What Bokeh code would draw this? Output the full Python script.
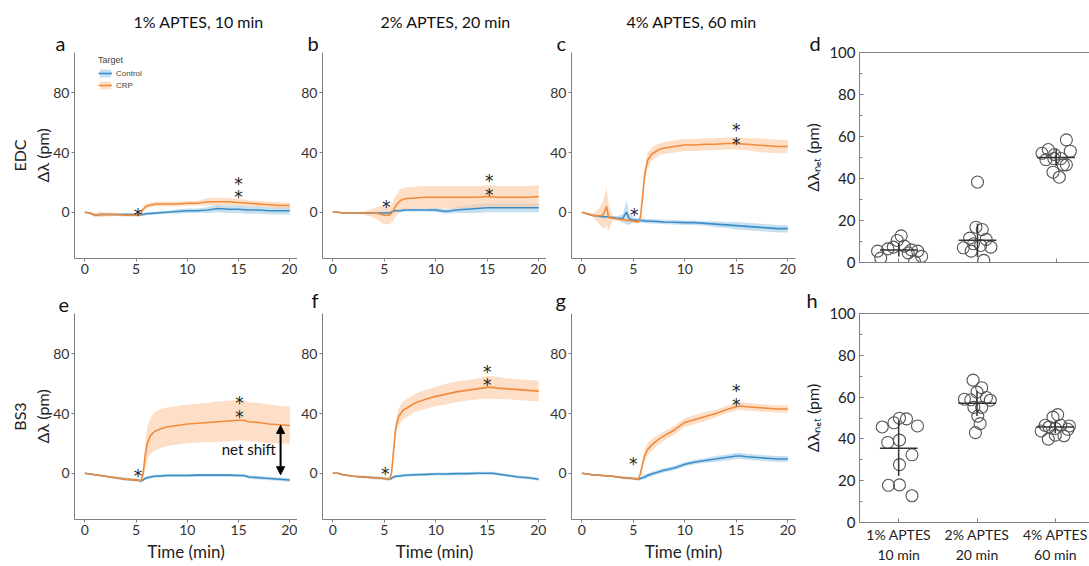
import numpy as np
from bokeh.plotting import figure
from bokeh.layouts import row, column
from bokeh.models import (Range1d, FixedTicker, Label, Legend, LegendItem, Arrow,
                          NormalHead, LinearAxis, Title)
from bokeh.core.properties import value
from bokeh.embed import file_html
from bokeh.resources import INLINE

FONT = "Lato"

# ---------------- data ----------------
col_titles = ["1% APTES, 10 min", "2% APTES, 20 min", "4% APTES, 60 min"]
row_names = ["EDC", "BS3"]
letters = ["a", "b", "c", "d", "e", "f", "g", "h"]
cat_labels = ["1% APTES\n10 min", "2% APTES\n20 min", "4% APTES\n60 min"]

# panel a (EDC, 1% APTES)
t_a = [0, 0.5, 1, 1.5, 2, 3, 4, 5, 5.4, 5.7, 6, 6.5, 7, 8, 9, 10, 11, 12, 13, 14, 15, 16, 17, 18, 19, 20]
crp_a = [0, -0.5, -2, -1.5, -1.5, -1.5, -2, -2, -2, 2, 4, 5, 5.5, 5.5, 5.5, 6, 6, 7, 7, 7, 6.5, 6, 5.5, 5, 4.5, 4.5]
crp_a_sd = [0, 0.5, 1, 2, 1.5, 1, 1, 1, 1, 1.5, 1.5, 1.5, 1.5, 1.5, 1.5, 1.5, 1.5, 2.5, 2.5, 2.5, 2.5, 2, 2, 2, 2, 2]
ctl_a = [0, -0.5, -2, -1.5, -1.5, -1.5, -1.5, -1.5, -1.5, -1.5, -1, -0.8, -0.5, 0, 0.5, 1, 1, 1.5, 2.5, 2, 2, 1.5, 1.5, 1, 1, 1]
ctl_a_sd = [0, 0.5, 1, 1, 1, 1, 1, 1, 1, 1, 1, 1, 1, 1, 1.5, 1.5, 1.5, 2, 2.5, 2.5, 2.5, 2.5, 2.5, 2.5, 2.5, 2.5]

# panel b (EDC, 2% APTES)
t_b = [0, 0.5, 1, 2, 3, 3.5, 4, 4.5, 5, 5.5, 5.8, 6, 6.3, 6.6, 7, 8, 9, 10, 11, 12, 13, 14, 15, 16, 17, 18, 19, 20]
crp_b = [0, 0, -0.5, -0.5, -0.5, -0.5, -0.5, -1, -2, -2, 0, 3, 6, 8, 9, 9.5, 10, 10, 10, 10, 10, 10, 10.5, 10, 10, 10, 10, 10.5]
crp_b_sd = [0, 0.3, 0.5, 0.5, 1, 2, 3, 5, 6, 6, 6.5, 7, 7, 7.5, 7.5, 7.5, 7.5, 7.5, 7.5, 7.5, 7.5, 7.5, 7.5, 7.5, 7.5, 7.5, 7.5, 7.5]
ctl_b = [0, 0, -0.5, -0.5, -0.5, -0.5, -0.5, -0.5, -0.5, -0.5, 0.5, 1, 1, 1, 1.5, 1.5, 1.5, 1.5, 0.5, 1.5, 2, 2.5, 3, 3, 3, 3, 3, 3]
ctl_b_sd = [0, 0.3, 0.5, 0.5, 0.5, 0.5, 0.5, 0.8, 1, 1, 1, 1, 1, 1, 1, 1, 1, 1.5, 1.5, 2, 2.5, 3, 3, 3, 3, 3, 3, 3]

# panel c (EDC, 4% APTES)
t_c = [0, 0.5, 1, 1.5, 2, 2.2, 2.4, 2.6, 3, 3.5, 4, 4.2, 4.35, 4.6, 5, 5.5, 5.7, 5.9, 6.1, 6.4, 6.8, 7.5, 8, 9, 10, 11, 12, 13, 14, 15, 16, 17, 18, 19, 20]
crp_c = [0, -1, -2, -2.5, -2, 0, 4, -3.5, -4, -4.5, -5, -5, -5.5, -5.5, -6, -6.5, -3, 10, 25, 35, 39, 42, 43, 44, 45, 45, 45.5, 45.5, 46, 46, 45.5, 45, 44.5, 44, 44]
crp_c_sd = [0, 0.5, 1, 4, 8, 11, 13, 9, 1.5, 1, 1, 1, 1, 1, 1, 1, 2, 4, 5, 5, 4.5, 4, 4, 4, 4, 4, 4, 4, 4, 4, 4, 4.5, 4.5, 4.5, 4.5]
ctl_c = [0, -1, -2, -2.5, -3, -3, -3, -3.2, -3.5, -4, -4, -1.5, 0, -4.5, -5, -5.5, -5.5, -5.5, -5.8, -6, -6, -6.3, -6.5, -6.7, -7, -7, -7.5, -8, -8.5, -9, -9.5, -10, -10.5, -11, -11]
ctl_c_sd = [0, 0.5, 0.8, 1, 1, 1, 1, 1, 1, 1.5, 3, 6, 8, 4, 1.5, 1.5, 1.5, 1.5, 1.5, 1.5, 1.5, 1.5, 1.5, 1.5, 1.5, 1.5, 1.5, 2, 2, 2.5, 2.5, 2.5, 2.5, 2.5, 2.5]

# bottom row time grid
t_e = [0, 0.5, 1, 2, 3, 4, 5, 5.5, 5.7, 5.9, 6.1, 6.4, 6.8, 7.5, 8, 9, 10, 11, 12, 13, 14, 15, 15.5, 16, 17, 18, 19, 20]
# panel e (BS3, 1% APTES)
crp_e = [0, -0.5, -1, -2, -3, -4, -4.5, -5, 0, 12, 20, 25, 28, 30, 31, 32, 33, 33.5, 34, 34.5, 35, 35.5, 35.5, 34.5, 34, 33, 32.5, 32]
crp_e_sd = [0, 0.3, 0.5, 0.5, 0.8, 1, 1, 1, 4, 8, 11, 12, 13, 13, 13, 13, 13, 13, 13, 13.5, 13.5, 13.5, 13.5, 13, 13, 13, 12.5, 12.5]
ctl_e = [0, -0.5, -1, -2, -3, -4, -4.5, -5, -4.5, -3.5, -3, -2.5, -2, -1.8, -1.5, -1.5, -1.5, -1.3, -1.3, -1.3, -1.3, -1.5, -1.5, -2.5, -3, -3.5, -4, -4.5]
ctl_e_sd = [0, 0.3, 0.5, 0.5, 0.8, 1, 1, 1, 1, 1, 1, 1, 1, 1, 1, 1, 1, 1, 1, 1, 1, 1, 1, 1.2, 1.2, 1.2, 1.2, 1.2]

# panel f (BS3, 2% APTES)
crp_f = [0, 0, -1, -2, -2.5, -3, -3.5, -4, 0, 15, 30, 38, 42, 45, 47, 49.5, 51.5, 53, 54.5, 55.5, 56.5, 57.5, 57.5, 57, 56.5, 56, 55.5, 55]
crp_f_sd = [0, 0.3, 0.5, 0.5, 0.8, 0.8, 1, 1, 2, 4, 5, 5.5, 6, 6, 6, 6.5, 6.5, 7, 7, 7, 7, 7.5, 7.5, 7.5, 7, 7, 7, 7]
ctl_f = [0, 0, -1, -2, -2.5, -3, -3.5, -4, -3.5, -2.5, -2, -2, -1.5, -1.2, -1, -0.8, -0.5, -0.5, -0.3, -0.3, 0, 0, 0, -0.5, -1.5, -2.5, -3, -4]
ctl_f_sd = [0, 0.3, 0.5, 0.5, 0.8, 1, 1, 1, 1, 1, 1, 1, 1, 1, 1, 1, 1, 1, 1, 1, 1, 1, 1, 1, 1, 1, 1, 1]

# panel g (BS3, 4% APTES)
crp_g = [0, -0.5, -1, -1.5, -2, -3, -3.5, -4, 0, 6, 12, 16, 19, 23, 25, 29, 34, 36, 38, 40, 42.5, 44.5, 45, 44.5, 44, 43.5, 43, 43]
crp_g_sd = [0, 0.3, 0.5, 0.5, 0.5, 0.8, 0.8, 1, 2, 3, 4, 4, 4, 3.5, 3, 3, 3, 3, 3, 2.5, 2.5, 2.5, 2.5, 2.5, 2.5, 2.5, 2.5, 2.5]
ctl_g = [0, -0.5, -1, -1.5, -2, -3, -3.5, -4, -3.5, -3, -2.5, -1.5, -0.5, 1, 2, 3.5, 6, 7.5, 8.5, 9.5, 10.5, 11.5, 11.5, 11, 10.5, 10, 9.5, 9.5]
ctl_g_sd = [0, 0.3, 0.5, 0.5, 0.5, 0.8, 1, 1, 1, 1, 1.5, 1.5, 1.5, 1.5, 1.5, 1.5, 1.5, 1.5, 1.5, 2, 2, 2, 2, 2, 2, 2, 2, 2]

# significance stars (time, value)
star_t = {"a": [5.2, 15, 15], "b": [5.2, 15.2, 15.2], "c": [5.1, 15, 15],
          "e": [5.2, 15.1, 15.1], "f": [5.1, 15, 15], "g": [5.0, 15, 15]}
star_v = {"a": [1, 21.5, 13], "b": [6.4, 23.8, 14.4], "c": [1.1, 57.5, 48.7],
          "e": [1.1, 49.8, 40.4], "f": [2, 70.4, 61.5], "g": [8.9, 57.6, 48.2]}

# net shift arrow (panel e)
net_t = 19.1
net_top = 32
net_bottom = -1

# scatter panels: net shift per replicate
d_grp = [1] * 12 + [2] * 11 + [3] * 12
d_jit = [-0.27, -0.23, -0.14, -0.07, -0.02, 0.03, 0.07, 0.12, 0.16, 0.2, 0.29, 0.24,
         0.0, -0.02, 0.06, -0.1, -0.18, -0.08, -0.05, 0.04, 0.11, 0.17, 0.08,
         -0.18, -0.1, -0.02, -0.13, -0.03, 0.13, 0.18, 0.09, 0.13, -0.04, 0.04, 0.06]
d_val = [5.4, 2.1, 6.5, 7.3, 10.5, 12.7, 7.8, 4.6, 6.0, 0.4, 2.9, 5.4,
         38.3, 16.8, 15.7, 11.6, 7.0, 5.4, 8.9, 8.1, 11.0, 7.3, 1.0,
         52.0, 53.8, 51.4, 49.0, 49.5, 58.4, 53.0, 46.5, 46.5, 43.0, 40.6, 49.5]
d_mean = [6.0, 10.6, 50.0]
d_sd = [3.2, 8.0, 4.0]

h_grp = [1] * 12 + [2] * 12 + [3] * 12
h_jit = [-0.21, -0.14, -0.06, 0.01, 0.1, 0.24, 0.01, 0.17, 0.01, -0.13, 0.01, 0.17,
         -0.05, 0.06, 0.0, -0.16, -0.08, 0.12, 0.17, -0.04, 0.06, 0.01, 0.04, -0.02,
         0.03, -0.03, -0.13, -0.18, -0.08, 0.07, 0.18, 0.0, -0.09, 0.0, 0.11, 0.16]
h_val = [45.7, 38.3, 47.7, 49.9, 49.6, 46.2, 39.4, 32.4, 27.7, 17.8, 18.0, 12.8,
         68.1, 64.5, 62.4, 59.0, 58.7, 59.8, 58.5, 55.1, 55.1, 50.9, 47.3, 43.0,
         51.6, 50.4, 46.5, 43.8, 45.7, 46.5, 46.2, 45.0, 39.9, 41.8, 41.5, 44.6]
h_mean = [35.5, 57.0, 45.7]
h_sd = [13.3, 6.0, 3.0]

# ---------------- styling ----------------
ORANGE = "#F28A3A"
BLUE = "#3B8DC8"
ORANGE_FILL = "#FBC9A2"
BLUE_FILL = "#A9CFEA"
AXIS_GREY = "#808080"
TEXT = "#333333"


def style_title(t, size):
    t.text_font = FONT
    t.text_font_size = size
    t.text_font_style = "normal"
    t.text_color = "#111111"
    t.align = "left"


def add_titles(p, letter, letter_offset, title=None, title_offset=0, letter_standoff=-4):
    if title:
        p.title.text = title
        p.title.offset = title_offset
        p.title.standoff = 0
        style_title(p.title, "16px")
        lt = Title(text=letter, offset=letter_offset, standoff=letter_standoff)
        style_title(lt, "20px")
        p.add_layout(lt, "above")
    else:
        p.title.text = letter
        p.title.offset = letter_offset
        p.title.standoff = letter_standoff
        style_title(p.title, "20px")


def ts_panel(t, crp, crp_sd, ctl, ctl_sd, stars_t, stars_v, fw, left, right, top, bottom,
             ylabel=None, xlabel=None):
    p = figure(frame_width=fw, frame_height=206, x_range=Range1d(-1, 20.75),
               y_range=Range1d(-31, 107), output_backend="svg", toolbar_location=None,
               min_border_left=left, min_border_right=right, min_border_top=top,
               min_border_bottom=bottom)
    p.xgrid.visible = False
    p.ygrid.visible = False
    p.outline_line_color = None
    t = np.array(t, dtype=float)
    crp = np.array(crp, dtype=float)
    ctl = np.array(ctl, dtype=float)
    crp_sd = np.array(crp_sd, dtype=float)
    ctl_sd = np.array(ctl_sd, dtype=float)
    bb = p.varea(x=t, y1=ctl - ctl_sd, y2=ctl + ctl_sd, fill_color=BLUE_FILL, fill_alpha=0.65)
    ob = p.varea(x=t, y1=crp - crp_sd, y2=crp + crp_sd, fill_color=ORANGE_FILL, fill_alpha=0.6)
    bl = p.line(t, ctl, line_color=BLUE, line_width=1.6)
    ol = p.line(t, crp, line_color=ORANGE, line_width=1.6)
    p.text(x=stars_t, y=stars_v, text=["*"] * len(stars_t), text_font=value("DejaVu Sans"),
           text_font_size="17px", text_align="center", text_baseline="middle",
           text_color="#222222", y_offset=4)
    for ax in (p.xaxis[0], p.yaxis[0]):
        ax.axis_line_color = AXIS_GREY
        ax.major_tick_line_color = AXIS_GREY
        ax.minor_tick_line_color = None
        ax.major_tick_out = 3
        ax.major_tick_in = 0
        ax.major_label_text_font = FONT
        ax.major_label_text_font_size = "14px"
        ax.major_label_text_color = TEXT
        ax.major_label_standoff = 2
    p.xaxis.ticker = FixedTicker(ticks=[0, 5, 10, 15, 20])
    p.yaxis.ticker = FixedTicker(ticks=[0, 40, 80])
    if ylabel:
        p.yaxis.axis_label = ylabel
        p.yaxis.axis_label_text_font = FONT
        p.yaxis.axis_label_text_font_size = "16px"
        p.yaxis.axis_label_text_font_style = "normal"
        p.yaxis.axis_label_text_color = "#222222"
        p.yaxis.axis_label_standoff = -2
    if xlabel:
        p.xaxis.axis_label = xlabel
        p.xaxis.axis_label_text_font = FONT
        p.xaxis.axis_label_text_font_size = "17px"
        p.xaxis.axis_label_text_font_style = "normal"
        p.xaxis.axis_label_text_color = "#222222"
        p.xaxis.axis_label_standoff = 3
    return p, (bb, bl, ob, ol)


def dot_panel(grp, jit, val, mean, sd, fw, fh, left, right, top, bottom, show_labels):
    p = figure(frame_width=fw, frame_height=fh, x_range=Range1d(0.5, 3.5),
               y_range=Range1d(0, 100), output_backend="svg", toolbar_location=None,
               min_border_left=left, min_border_right=right, min_border_top=top,
               min_border_bottom=bottom)
    p.xgrid.visible = False
    p.ygrid.visible = False
    p.outline_line_color = AXIS_GREY
    xs = [g + j for g, j in zip(grp, jit)]
    p.scatter(xs, val, marker="circle", size=12, fill_alpha=0, line_color="#555555",
              line_width=1.1)
    cats = [1, 2, 3]
    m = np.array(mean)
    s = np.array(sd)
    p.segment(x0=[c - 0.24 for c in cats], x1=[c + 0.24 for c in cats], y0=m, y1=m,
              line_color="#333333", line_width=1.5)
    p.segment(x0=cats, x1=cats, y0=m - s, y1=m + s, line_color="#333333", line_width=1.5)
    yt = FixedTicker(ticks=[0, 20, 40, 60, 80, 100], minor_ticks=[10, 30, 50, 70, 90])
    p.yaxis.ticker = yt
    ya = p.yaxis[0]
    ya.axis_line_color = AXIS_GREY
    ya.major_tick_line_color = AXIS_GREY
    ya.minor_tick_line_color = AXIS_GREY
    ya.major_tick_in = 4
    ya.major_tick_out = 0
    ya.minor_tick_in = 3
    ya.minor_tick_out = 0
    ya.major_label_text_font = FONT
    ya.major_label_text_font_size = "15px"
    ya.major_label_text_color = "#222222"
    ya.major_label_standoff = 4
    ya.axis_label = "Δλₙₑₜ (pm)"
    ya.axis_label_text_font = FONT
    ya.axis_label_text_font_size = "16px"
    ya.axis_label_text_font_style = "normal"
    ya.axis_label_text_color = "#222222"
    ya.axis_label_standoff = 4
    ra = LinearAxis(ticker=yt, axis_line_color=AXIS_GREY, major_tick_line_color=AXIS_GREY,
                    minor_tick_line_color=AXIS_GREY, major_tick_in=4, major_tick_out=0,
                    minor_tick_in=3, minor_tick_out=0, major_label_text_font_size="0px",
                    major_label_text_color=None, major_label_standoff=0)
    p.add_layout(ra, "right")
    xa = p.xaxis[0]
    xa.ticker = FixedTicker(ticks=cats, minor_ticks=[])
    xa.axis_line_color = AXIS_GREY
    xa.major_tick_line_color = AXIS_GREY
    xa.major_tick_in = 4
    xa.major_tick_out = 0
    if show_labels:
        xa.major_label_overrides = {c: l for c, l in zip(cats, cat_labels)}
        xa.major_label_text_font = FONT
        xa.major_label_text_font_size = "14px"
        xa.major_label_text_color = "#222222"
        xa.major_label_standoff = 3
    else:
        xa.major_label_text_font_size = "0px"
        xa.major_label_text_color = None
    return p


pa, ra_ = ts_panel(t_a, crp_a, crp_a_sd, ctl_a, ctl_a_sd, star_t["a"], star_v["a"],
                   223, 74, 0, 52, 24, ylabel=row_names[0] + "\nΔλ (pm)")
add_titles(pa, letters[0], -19, col_titles[0], 59)
pb, _ = ts_panel(t_b, crp_b, crp_b_sd, ctl_b, ctl_b_sd, star_t["b"], star_v["b"],
                 224, 25, 0, 52, 24)
add_titles(pb, letters[1], -15, col_titles[1], 58)
pc, _ = ts_panel(t_c, crp_c, crp_c_sd, ctl_c, ctl_c_sd, star_t["c"], star_v["c"],
                 224, 25, 5, 52, 24)
add_titles(pc, letters[2], -15, col_titles[2], 55)
pd = dot_panel(d_grp, d_jit, d_val, d_mean, d_sd, 236, 210, 52, 1, 52, 20, False)
add_titles(pd, letters[3], -50)

pe, _ = ts_panel(t_e, crp_e, crp_e_sd, ctl_e, ctl_e_sd, star_t["e"], star_v["e"],
                 223, 74, 0, 31, 47, ylabel=row_names[1] + "\nΔλ (pm)", xlabel="Time (min)")
add_titles(pe, letters[4], -16, letter_standoff=4)
pf, _ = ts_panel(t_e, crp_f, crp_f_sd, ctl_f, ctl_f_sd, star_t["f"], star_v["f"],
                 224, 25, 0, 31, 47, xlabel="Time (min)")
add_titles(pf, letters[5], -11, letter_standoff=4)
pg, _ = ts_panel(t_e, crp_g, crp_g_sd, ctl_g, ctl_g_sd, star_t["g"], star_v["g"],
                 224, 25, 5, 31, 47, xlabel="Time (min)")
add_titles(pg, letters[6], -16, letter_standoff=4)
ph = dot_panel(h_grp, h_jit, h_val, h_mean, h_sd, 235, 209, 53, 1, 31, 44, True)
add_titles(ph, letters[7], -53, letter_standoff=4)

# legend in panel a
bb, bl, ob, ol = ra_
leg = Legend(items=[LegendItem(label="Control", renderers=[bb, bl]),
                    LegendItem(label="CRP", renderers=[ob, ol])],
             title="Target", location=(24, 168), background_fill_alpha=0,
             border_line_alpha=0, label_text_font="Liberation Sans",
             label_text_font_size="8px", title_text_font="Liberation Sans",
             title_text_font_size="9px", title_text_font_style="normal",
             glyph_height=10, glyph_width=14, label_height=10, spacing=2, padding=0,
             margin=0, label_standoff=4, title_standoff=3)
pa.add_layout(leg)

# net shift annotation in panel e
pe.add_layout(Arrow(start=NormalHead(size=8, fill_color="black", line_color="black"),
                    end=NormalHead(size=8, fill_color="black", line_color="black"),
                    x_start=net_t, y_start=net_bottom, x_end=net_t, y_end=net_top,
                    line_width=2, line_color="black"))
pe.add_layout(Label(x=16.0, y=16, text="net shift", text_font=FONT, text_font_size="15px",
                    text_align="center", text_baseline="middle", text_color="#111111"))

root = column(row(pa, pb, pc, pd, spacing=0), row(pe, pf, pg, ph, spacing=0), spacing=0)
open("out.html", "w").write(file_html(root, INLINE))
